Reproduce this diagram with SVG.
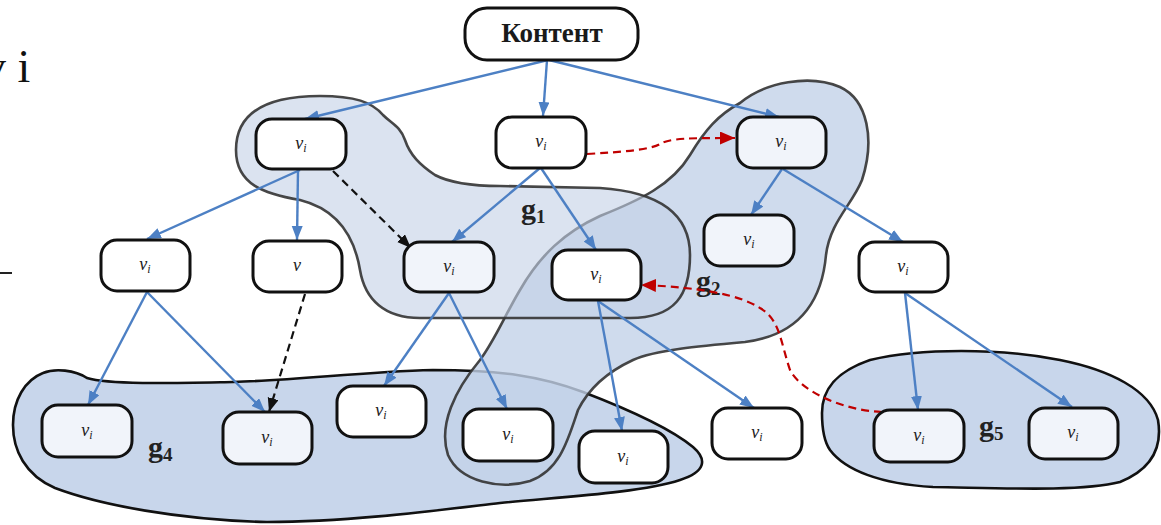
<svg xmlns="http://www.w3.org/2000/svg" width="1161" height="525" viewBox="0 0 1161 525">
  <style>
    .node rect { stroke: #111; stroke-width: 3; }
    .plain { fill: #ffffff; }
    .tint { fill: #f1f4fa; }
    .lbl { font-family: "Liberation Serif", "Times New Roman", serif; font-style: italic; font-size: 18px; fill: #222; }
    .edge { stroke: #4d80c4; stroke-width: 2.4; fill: none; marker-end: url(#ab); }
    .dash-k { stroke: #111; stroke-width: 2.2; fill: none; stroke-dasharray: 8 5; marker-end: url(#ak); }
    .dash-r { stroke: #c00000; stroke-width: 2.2; fill: none; stroke-dasharray: 8 5; marker-end: url(#ar); }
    .grp { stroke-width: 2.6; }
    .glbl { font-family: "Liberation Serif", "Times New Roman", serif; font-weight: bold; font-size: 30px; fill: #222; }
    .title { font-family: "Liberation Serif", "Times New Roman", serif; font-weight: bold; font-size: 27px; fill: #1a1a1a; }
  </style>
  <defs>
    <marker id="ab" markerUnits="userSpaceOnUse" markerWidth="15" markerHeight="12" refX="14" refY="5.5" orient="auto">
      <path d="M0,0 L14,5.5 L0,11 Z" fill="#4d80c4"/>
    </marker>
    <marker id="ak" markerUnits="userSpaceOnUse" markerWidth="15" markerHeight="12" refX="14" refY="5.5" orient="auto">
      <path d="M0,0 L14,5.5 L0,11 Z" fill="#111"/>
    </marker>
    <marker id="ar" markerUnits="userSpaceOnUse" markerWidth="16" markerHeight="14" refX="15" refY="6.5" orient="auto">
      <path d="M0,0 L15,6.5 L0,13 Z" fill="#c00000"/>
    </marker>
  </defs>

  <rect width="1161" height="525" fill="#ffffff"/>

  <!-- fragments of surrounding page text -->
  <text x="-17" y="82" font-family="Liberation Serif, serif" font-size="46" fill="#111">v i</text>
  <line x1="0" y1="273" x2="12" y2="273" stroke="#222" stroke-width="2"/>

  <!-- groups -->
  <g id="group-g4">
    <path class="grp" fill="#c8d6eb" stroke="#111" d="M43,373 C55,368 75,370 87,378 C110,385 180,383 233,382 C300,380 360,372 433,370 C500,370 540,376 583,392 C630,410 670,428 693,447 C708,460 705,472 680,480 C640,493 560,497 500,503 C440,510 350,522 267,522 C180,520 100,505 55,488 C25,475 13,450 13,425 C13,400 25,380 43,373 Z"/>
    <text class="glbl" x="148" y="457">g<tspan font-size="19" dy="4">4</tspan></text>
  </g>
  <g id="group-g5">
    <path class="grp" fill="#c8d6eb" stroke="#111" d="M822,413 C822,390 835,372 870,360 C920,348 1000,348 1060,360 C1110,370 1150,390 1158,420 C1163,450 1150,470 1120,482 C1080,492 1000,488 933,487 C880,484 845,470 830,450 C823,440 822,425 822,413 Z"/>
    <text class="glbl" x="979" y="436">g<tspan font-size="19" dy="4">5</tspan></text>
  </g>
  <g id="group-g2">
    <path class="grp" fill="#c3d2e9" fill-opacity="0.8" stroke="#333" stroke-opacity="0.9" d="M740,103 C765,82 810,74 840,87 C868,100 875,140 862,180 C852,205 830,222 826,255 C822,300 800,335 745,342 C700,346 655,350 633,360 C605,373 588,390 578,410 C568,440 560,470 530,481 C500,490 460,482 448,455 C438,425 455,390 480,360 C495,340 505,315 520,290 C540,255 565,232 600,216 C640,200 672,185 690,155 C705,130 718,115 740,103 Z"/>
    <text class="glbl" x="696" y="291">g<tspan font-size="19" dy="4">2</tspan></text>
  </g>
  <g id="group-g1">
    <path class="grp" fill="#c3d0e6" fill-opacity="0.6" stroke="#333" stroke-opacity="0.9" d="M236,150 C236,110 270,96 320,96 C355,96 372,102 383,115 C392,124 400,126 405,140 C410,155 420,165 435,175 C450,183 470,186 500,186 L600,188 C660,192 690,215 690,255 C690,295 675,318 630,318 L420,318 C385,318 365,300 360,270 C355,240 340,210 300,200 C265,194 236,185 236,150 Z"/>
    <text class="glbl" x="521" y="219">g<tspan font-size="19" dy="4">1</tspan></text>
  </g>

  <!-- connectors -->
  <g id="connectors">
    <line class="edge" x1="548" y1="60" x2="305" y2="119"/>
    <line class="edge" x1="547" y1="60" x2="543" y2="116"/>
    <line class="edge" x1="549" y1="60" x2="779" y2="117"/>
    <line class="edge" x1="300" y1="170" x2="147" y2="239"/>
    <line class="edge" x1="298" y1="170" x2="297" y2="240"/>
    <line class="edge" x1="540" y1="168" x2="452" y2="242"/>
    <line class="edge" x1="541" y1="168" x2="596" y2="250"/>
    <line class="edge" x1="782" y1="169" x2="751" y2="215"/>
    <line class="edge" x1="783" y1="169" x2="903" y2="242"/>
    <line class="edge" x1="147" y1="292" x2="88" y2="405"/>
    <line class="edge" x1="147" y1="292" x2="265" y2="412"/>
    <line class="edge" x1="449" y1="293" x2="384" y2="386"/>
    <line class="edge" x1="449" y1="293" x2="507" y2="409"/>
    <line class="edge" x1="598" y1="301" x2="622" y2="431"/>
    <line class="edge" x1="598" y1="301" x2="754" y2="408"/>
    <line class="edge" x1="905" y1="293" x2="918" y2="410"/>
    <line class="edge" x1="905" y1="293" x2="1072" y2="407"/>
    <line class="dash-k" x1="333" y1="171" x2="411" y2="248"/>
    <line class="dash-k" x1="305" y1="294" x2="269" y2="412"/>
    <path class="dash-r" d="M587,154 C620,152 650,150 660,144 C670,138 690,138 735,138"/>
    <path class="dash-r" d="M882,412 C840,410 800,390 790,370 C780,340 780,320 760,308 C740,295 700,287 641,285"/>
  </g>

  <!-- nodes -->
  <g id="node-content" class="node">
    <rect class="plain" x="465" y="8" width="173" height="52" rx="22"/>
    <text class="title" x="552" y="42" text-anchor="middle">Контент</text>
  </g>
  <g id="node-a" class="node">
    <rect class="plain" x="256" y="119" width="90" height="50" rx="16"/>
    <text class="lbl" x="301" y="149" text-anchor="middle">v<tspan font-size="12" dy="3">i</tspan></text>
  </g>
  <g id="node-b" class="node">
    <rect class="plain" x="496" y="117" width="90" height="51" rx="16"/>
    <text class="lbl" x="541" y="147" text-anchor="middle">v<tspan font-size="12" dy="3">i</tspan></text>
  </g>
  <g id="node-c" class="node">
    <rect class="tint" x="737" y="117" width="89" height="51" rx="16"/>
    <text class="lbl" x="781" y="147" text-anchor="middle">v<tspan font-size="12" dy="3">i</tspan></text>
  </g>
  <g id="node-d" class="node">
    <rect class="plain" x="101" y="240" width="89" height="51" rx="16"/>
    <text class="lbl" x="145" y="270" text-anchor="middle">v<tspan font-size="12" dy="3">i</tspan></text>
  </g>
  <g id="node-e" class="node">
    <rect class="plain" x="253" y="241" width="89" height="51" rx="16"/>
    <text class="lbl" x="297" y="271" text-anchor="middle">v</text>
  </g>
  <g id="node-f" class="node">
    <rect class="tint" x="404" y="242" width="90" height="50" rx="16"/>
    <text class="lbl" x="449" y="272" text-anchor="middle">v<tspan font-size="12" dy="3">i</tspan></text>
  </g>
  <g id="node-g" class="node">
    <rect class="plain" x="552" y="250" width="89" height="50" rx="16"/>
    <text class="lbl" x="596" y="280" text-anchor="middle">v<tspan font-size="12" dy="3">i</tspan></text>
  </g>
  <g id="node-h" class="node">
    <rect class="tint" x="704" y="215" width="90" height="51" rx="16"/>
    <text class="lbl" x="749" y="245" text-anchor="middle">v<tspan font-size="12" dy="3">i</tspan></text>
  </g>
  <g id="node-i" class="node">
    <rect class="plain" x="859" y="242" width="89" height="50" rx="16"/>
    <text class="lbl" x="903" y="272" text-anchor="middle">v<tspan font-size="12" dy="3">i</tspan></text>
  </g>
  <g id="node-j" class="node">
    <rect class="tint" x="42" y="405" width="90" height="52" rx="16"/>
    <text class="lbl" x="87" y="436" text-anchor="middle">v<tspan font-size="12" dy="3">i</tspan></text>
  </g>
  <g id="node-k" class="node">
    <rect class="tint" x="223" y="412" width="89" height="52" rx="16"/>
    <text class="lbl" x="267" y="443" text-anchor="middle">v<tspan font-size="12" dy="3">i</tspan></text>
  </g>
  <g id="node-l" class="node">
    <rect class="plain" x="337" y="386" width="89" height="51" rx="16"/>
    <text class="lbl" x="381" y="416" text-anchor="middle">v<tspan font-size="12" dy="3">i</tspan></text>
  </g>
  <g id="node-m" class="node">
    <rect class="plain" x="463" y="409" width="90" height="52" rx="16"/>
    <text class="lbl" x="508" y="440" text-anchor="middle">v<tspan font-size="12" dy="3">i</tspan></text>
  </g>
  <g id="node-n" class="node">
    <rect class="plain" x="579" y="431" width="89" height="52" rx="16"/>
    <text class="lbl" x="623" y="462" text-anchor="middle">v<tspan font-size="12" dy="3">i</tspan></text>
  </g>
  <g id="node-o" class="node">
    <rect class="plain" x="712" y="408" width="90" height="51" rx="16"/>
    <text class="lbl" x="757" y="438" text-anchor="middle">v<tspan font-size="12" dy="3">i</tspan></text>
  </g>
  <g id="node-p" class="node">
    <rect class="tint" x="874" y="410" width="90" height="52" rx="16"/>
    <text class="lbl" x="919" y="441" text-anchor="middle">v<tspan font-size="12" dy="3">i</tspan></text>
  </g>
  <g id="node-q" class="node">
    <rect class="tint" x="1029" y="408" width="89" height="51" rx="16"/>
    <text class="lbl" x="1073" y="438" text-anchor="middle">v<tspan font-size="12" dy="3">i</tspan></text>
  </g>
</svg>
